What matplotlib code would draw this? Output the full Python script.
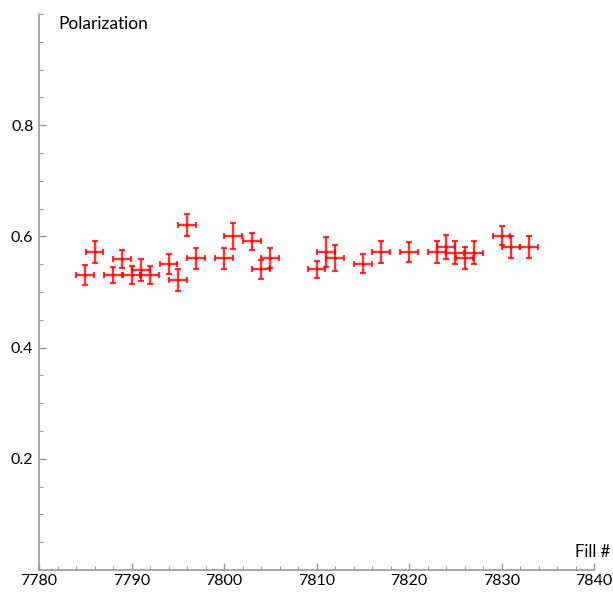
import matplotlib
matplotlib.use("Agg")
import matplotlib.pyplot as plt
import numpy as np
from matplotlib.ticker import MultipleLocator, FixedLocator, FormatStrFormatter

fills = [7785, 7786, 7788, 7789, 7790, 7791, 7792, 7794, 7795, 7796, 7797,
         7800, 7801, 7803, 7804, 7805, 7810, 7811, 7812, 7815, 7817, 7820,
         7823, 7824, 7825, 7826, 7827, 7830, 7831, 7833]
polarization = [0.531, 0.572, 0.531, 0.560, 0.531, 0.540, 0.531, 0.551, 0.521, 0.620, 0.561,
                0.561, 0.601, 0.591, 0.541, 0.561, 0.541, 0.572, 0.561, 0.551, 0.572, 0.572,
                0.572, 0.581, 0.571, 0.561, 0.571, 0.601, 0.581, 0.581]
pol_err = [0.018, 0.020, 0.014, 0.016, 0.016, 0.020, 0.016, 0.018, 0.020, 0.020, 0.019,
           0.019, 0.024, 0.016, 0.017, 0.018, 0.015, 0.027, 0.024, 0.017, 0.019, 0.018,
           0.020, 0.021, 0.020, 0.020, 0.020, 0.017, 0.019, 0.019]
fill_err = [0.95] * len(fills)

y_major = [0.2, 0.4, 0.6, 0.8]
y_minor = [0.05, 0.1, 0.15, 0.25, 0.3, 0.35, 0.45, 0.5, 0.55, 0.65, 0.7, 0.75, 0.85, 0.9, 0.95, 1.0]

plt.rcParams['font.family'] = ['Lato', 'DejaVu Sans']

W, H = 613, 595
fig = plt.figure(figsize=(W / 100, H / 100), dpi=100)
left, right, top, bottom = 39, 594, 14, 570
ax = fig.add_axes([left / W, 1 - bottom / H, (right - left) / W, (bottom - top) / H])

red = (1, 0, 0, 0.8)
ax.errorbar(fills, polarization, xerr=fill_err, yerr=pol_err, fmt='none',
            ecolor=red, elinewidth=1.7, capsize=2, capthick=1.6)
ax.plot(fills, polarization, linestyle='none', marker='o', markersize=2,
        color=red, markeredgewidth=0)

ax.set_xlim(7780, 7840)
ax.set_ylim(0, 1.0)

ax.xaxis.set_major_locator(MultipleLocator(10))
ax.xaxis.set_minor_locator(MultipleLocator(2))
ax.yaxis.set_major_locator(FixedLocator(y_major))
ax.yaxis.set_minor_locator(FixedLocator(y_minor))
ax.yaxis.set_major_formatter(FormatStrFormatter('%.1f'))

for s in ['top', 'right']:
    ax.spines[s].set_visible(False)
for s in ['left', 'bottom']:
    ax.spines[s].set_color('#9a9a9a')
    ax.spines[s].set_linewidth(1.2)

ax.tick_params(which='both', direction='in', color='#9a9a9a', labelsize=11.5)
ax.tick_params(which='major', length=5, width=1)
ax.tick_params(which='minor', length=3, width=0.8)
ax.tick_params(axis='x', pad=3)
ax.tick_params(axis='y', pad=4)

fig.text(58 / W, 1 - 24 / H, 'Polarization', fontsize=12.5, ha='left', va='center')
fig.text(610 / W, 1 - 552 / H, 'Fill #', fontsize=12, ha='right', va='center')

fig.savefig('out.png', dpi=100)
